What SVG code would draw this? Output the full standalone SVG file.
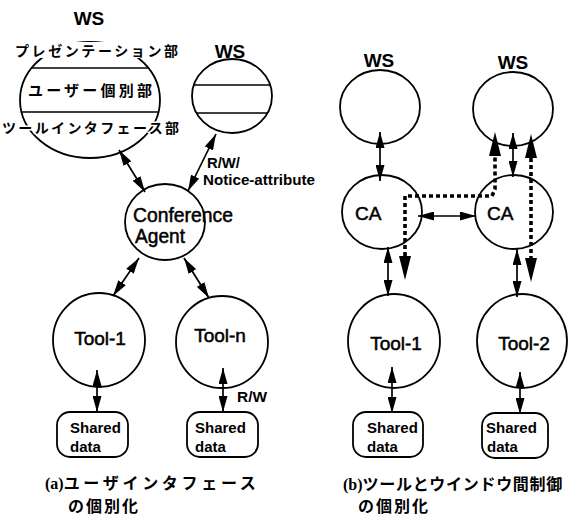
<svg xmlns="http://www.w3.org/2000/svg" width="568" height="518" viewBox="0 0 568 518">
<style>
.n{fill:none;stroke:#000;stroke-width:1.8}
.ln{stroke:#000;stroke-width:1.6}
.c{fill:none;stroke:#000;stroke-width:1.7;marker-start:url(#ah);marker-end:url(#ah)}
.d{fill:none;stroke:#000;stroke-width:3.6;stroke-dasharray:4 3;marker-start:url(#bh);marker-end:url(#bh)}
.t{font-family:"Liberation Sans",Arial,sans-serif;fill:#000}
.m{stroke:#000;stroke-width:0.5}
.b{font-weight:bold}
.j{font-family:"Noto Sans CJK JP","Noto Sans CJK SC",sans-serif;font-weight:bold;fill:#000}
.s{font-family:"Liberation Serif","Times New Roman",serif;font-weight:bold}
.halo{stroke:#fff;stroke-width:3;paint-order:stroke}
</style>
<defs>
<marker id="ah" viewBox="0 0 16 9" refX="16" refY="4.5" markerWidth="16" markerHeight="9" markerUnits="userSpaceOnUse" orient="auto-start-reverse"><path d="M0,0 L16,4.5 L0,9 z"/></marker>
<marker id="bh" viewBox="0 0 24 12" refX="0" refY="6" markerWidth="24" markerHeight="12" markerUnits="userSpaceOnUse" orient="auto-start-reverse"><path d="M0,0 L24,6 L0,12 z"/></marker>
</defs>
<rect width="568" height="518" fill="#fff"/>

<g id="ws-big">
<text class="t b" x="89" y="25" font-size="19" text-anchor="middle">WS</text>
<ellipse class="n" cx="90" cy="100" rx="70" ry="58"/>
<line class="ln" x1="32" y1="68" x2="148" y2="68"/>
<line class="ln" x1="22" y1="112" x2="158" y2="112"/>
<rect x="12" y="42" width="170" height="16" fill="#fff"/>
<text class="j" x="15" y="56" font-size="14" textLength="163" lengthAdjust="spacing">プレゼンテーション部</text>
<text class="j" x="28" y="96" font-size="15" textLength="124" lengthAdjust="spacing">ユーザー個別部</text>
<text class="j halo" x="2" y="133" font-size="14" textLength="177" lengthAdjust="spacing">ツールインタフェース部</text>
</g>

<g id="ws-small">
<text class="t b" x="230" y="58" font-size="19" text-anchor="middle">WS</text>
<ellipse class="n" cx="232" cy="96" rx="40" ry="37"/>
<line class="ln" x1="194" y1="85" x2="270" y2="85"/>
<line class="ln" x1="197" y1="113" x2="267" y2="113"/>
</g>

<g id="conference-agent">
<ellipse class="n" cx="165" cy="222" rx="40" ry="38"/>
<text class="t m" x="133" y="222" font-size="20" textLength="100" lengthAdjust="spacingAndGlyphs">Conference</text>
<text class="t m" x="135" y="243" font-size="20" textLength="50" lengthAdjust="spacingAndGlyphs">Agent</text>
</g>

<g id="tool-1a">
<ellipse class="n" cx="99" cy="340" rx="46" ry="47"/>
<text class="t m" x="100" y="345" font-size="19" text-anchor="middle">Tool-1</text>
</g>
<g id="tool-na">
<ellipse class="n" cx="222" cy="342" rx="46" ry="46"/>
<text class="t m" x="220" y="342" font-size="19" text-anchor="middle">Tool-n</text>
</g>
<g id="shared-1a">
<rect class="n" x="57" y="412" width="71" height="45" rx="13"/>
<text class="t b" x="70" y="433" font-size="15">Shared</text>
<text class="t b" x="70" y="452" font-size="15">data</text>
</g>
<g id="shared-na">
<rect class="n" x="187" y="412" width="71" height="45" rx="13"/>
<text class="t b" x="195" y="433" font-size="15">Shared</text>
<text class="t b" x="195" y="452" font-size="15">data</text>
</g>

<g id="ws-b1">
<text class="t b" x="379" y="67" font-size="19" text-anchor="middle">WS</text>
<ellipse class="n" cx="380" cy="107" rx="40" ry="37"/>
</g>
<g id="ws-b2">
<text class="t b" x="513" y="69" font-size="19" text-anchor="middle">WS</text>
<ellipse class="n" cx="513" cy="109" rx="40" ry="37"/>
</g>
<g id="ca-1">
<ellipse class="n" cx="382" cy="212" rx="40" ry="37"/>
<text class="t m" x="355" y="220" font-size="19">CA</text>
</g>
<g id="ca-2">
<ellipse class="n" cx="514" cy="212" rx="39" ry="37"/>
<text class="t m" x="487" y="220" font-size="19">CA</text>
</g>
<g id="tool-1b">
<ellipse class="n" cx="394" cy="341" rx="46" ry="47"/>
<text class="t m" x="396" y="350" font-size="19" text-anchor="middle">Tool-1</text>
</g>
<g id="tool-2b">
<ellipse class="n" cx="522" cy="341" rx="45" ry="47"/>
<text class="t m" x="524" y="350" font-size="19" text-anchor="middle">Tool-2</text>
</g>
<g id="shared-1b">
<rect class="n" x="353" y="412" width="70" height="45" rx="13"/>
<text class="t b" x="367" y="433" font-size="15">Shared</text>
<text class="t b" x="367" y="452" font-size="15">data</text>
</g>
<g id="shared-2b">
<rect class="n" x="482" y="413" width="66" height="45" rx="13"/>
<text class="t b" x="486" y="433" font-size="15">Shared</text>
<text class="t b" x="487" y="452" font-size="15">data</text>
</g>

<g id="connectors">
<line class="c" x1="119" y1="150" x2="145" y2="192"/>
<line class="c" x1="216" y1="134" x2="188" y2="191"/>
<line class="c" x1="139" y1="258" x2="113" y2="296"/>
<line class="c" x1="184" y1="258" x2="209" y2="298"/>
<line class="c" x1="97" y1="370" x2="97" y2="412"/>
<line class="c" x1="223" y1="368" x2="223" y2="412"/>
<line class="c" x1="380" y1="132" x2="380" y2="181"/>
<line class="c" x1="513" y1="133" x2="513" y2="177"/>
<line class="c" x1="418" y1="216" x2="476" y2="216"/>
<line class="c" x1="388" y1="247" x2="388" y2="296"/>
<line class="c" x1="517" y1="249" x2="517" y2="297"/>
<line class="c" x1="392" y1="367" x2="392" y2="413"/>
<line class="c" x1="520" y1="372" x2="520" y2="414"/>
<path class="d" d="M405,256 L405,196 L492,196 L495,189 L495,156"/>
<path class="d" d="M531,158 L531,258"/>
</g>

<g id="labels">
<text class="t b" x="207" y="168" font-size="15" textLength="33" lengthAdjust="spacingAndGlyphs">R/W/</text>
<text class="t b" x="203" y="185" font-size="15" textLength="112" lengthAdjust="spacingAndGlyphs">Notice-attribute</text>
<text class="t b" x="237" y="402" font-size="15" textLength="30" lengthAdjust="spacingAndGlyphs">R/W</text>
<text class="j" x="45" y="489" font-size="16"><tspan class="s">(a)</tspan><tspan letter-spacing="3.7">ユーザインタフェース</tspan></text>
<text class="j" x="68" y="512" font-size="16" letter-spacing="2">の個別化</text>
<text class="j" x="343" y="490" font-size="16"><tspan class="s">(b)</tspan><tspan letter-spacing="0.7">ツールとウインドウ間制御</tspan></text>
<text class="j" x="358" y="512" font-size="16" letter-spacing="2">の個別化</text>
</g>
</svg>
